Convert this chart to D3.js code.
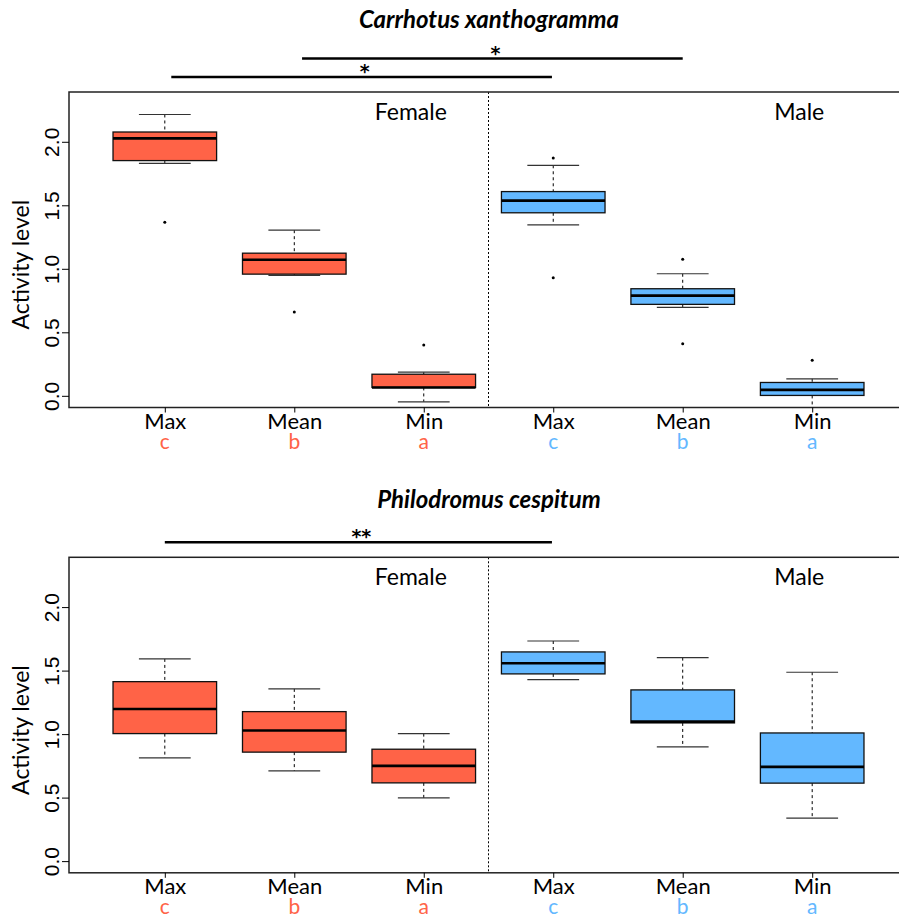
<!DOCTYPE html>
<html>
<head>
<meta charset="utf-8">
<script src="https://cdn.jsdelivr.net/npm/d3@7"></script>
<style>
body { margin: 0; background: #fff; }
svg text { font-family: Lato, "Open Sans", sans-serif; fill: #000; }
</style>
</head>
<body>
<svg id="chart" width="899" height="919"></svg>
<script>
// ---- data ----
var categories = ["Max", "Mean", "Min", "Max", "Mean", "Min"];
var groupLetters = ["c", "b", "a", "c", "b", "a"];
var sexOfBox = [0, 0, 0, 1, 1, 1];
var sexLabels = ["Female", "Male"];
var sexColors = ["#FF6347", "#63B8FF"];
var yTicks = [0, 0.5, 1.0, 1.5, 2.0];

// Carrhotus xanthogramma
var carrLow = [1.83, 0.948, -0.047, 1.346, 0.697, -0.12];
var carrQ1 = [1.852, 0.958, 0.066, 1.441, 0.720, 0.003];
var carrMed = [2.027, 1.071, 0.066, 1.537, 0.789, 0.047];
var carrQ3 = [2.077, 1.123, 0.170, 1.608, 0.843, 0.105];
var carrHigh = [2.215, 1.304, 0.186, 1.815, 0.961, 0.134];
var carrOutliers = [[1.367], [0.660], [0.40], [1.873, 0.930], [1.076, 0.41], [0.28]];
var carrBarFrom = [1.05, 2.06];
var carrBarTo = [3.99, 5.0];
var carrBarStars = ["*", "*"];

// Philodromus cespitum
var philLow = [0.813, 0.710, 0.498, 1.429, 0.899, 0.338];
var philQ1 = [1.004, 0.858, 0.616, 1.474, 1.088, 0.614];
var philMed = [1.198, 1.028, 0.750, 1.558, 1.098, 0.742];
var philQ3 = [1.413, 1.177, 0.881, 1.647, 1.348, 1.009];
var philHigh = [1.592, 1.356, 1.004, 1.733, 1.602, 1.487];
var philOutliers = [[], [], [], [], [], []];
var philBarFrom = [1.0];
var philBarTo = [3.99];
var philBarStars = ["**"];

var svg = d3.select("#chart");

var x = d3.scaleLinear().domain([0.26, 6.74]).range([69, 908]);

function drawPanel(cfg)
{
    var top = cfg.top, bottom = cfg.top + 315.5;
    var y = d3.scaleLinear().domain([-0.092, 2.392]).range([bottom, top]);
    var g = svg.append("g");
    var clipId = "clip" + cfg.id;

    g.append("clipPath").attr("id", clipId)
        .append("rect").attr("x", 69).attr("y", top).attr("width", 839).attr("height", bottom - top);

    // title
    g.append("text")
        .attr("x", 489).attr("y", cfg.titleY)
        .attr("text-anchor", "middle")
        .style("font-size", "24px").style("font-weight", "bold").style("font-style", "italic")
        .text(cfg.title);

    // significance bars
    cfg.barFrom.forEach(function (f, i) {
        var ly = top - 15 - i * 18.5;
        g.append("line")
            .attr("x1", x(f)).attr("x2", x(cfg.barTo[i]))
            .attr("y1", ly).attr("y2", ly)
            .attr("stroke", "#000").attr("stroke-width", 2.5);
        g.append("text")
            .attr("x", (x(f) + x(cfg.barTo[i])) / 2 + 3).attr("y", ly + 1)
            .attr("text-anchor", "middle")
            .style("font-family", "'DejaVu Sans', sans-serif")
            .style("font-size", "19px").style("font-weight", "bold")
            .text(cfg.stars[i]);
    });

    // divider between sexes
    g.append("line")
        .attr("x1", x(3.5)).attr("x2", x(3.5)).attr("y1", top).attr("y2", bottom)
        .attr("stroke", "#000").attr("stroke-width", 1).attr("stroke-dasharray", "2,2");

    // sex labels
    sexLabels.forEach(function (s, i) {
        g.append("text")
            .attr("x", x(i === 0 ? 2.9 : 5.9)).attr("y", top + 28)
            .attr("text-anchor", "middle")
            .style("font-size", "23px")
            .text(s);
    });

    // boxes
    var marks = g.append("g").attr("clip-path", "url(#" + clipId + ")");
    var boxes = marks.selectAll("g.box").data(categories.map(function (c, i) {
        return {pos: i + 1, low: cfg.low[i], q1: cfg.q1[i], med: cfg.med[i], q3: cfg.q3[i],
                high: cfg.high[i], out: cfg.outliers[i], color: sexColors[sexOfBox[i]]};
    })).enter().append("g").classed("box", true);

    boxes.append("line")
        .attr("x1", d => x(d.pos)).attr("x2", d => x(d.pos))
        .attr("y1", d => y(d.high)).attr("y2", d => y(d.q3))
        .attr("stroke", "#000").attr("stroke-dasharray", "3,3");
    boxes.append("line")
        .attr("x1", d => x(d.pos)).attr("x2", d => x(d.pos))
        .attr("y1", d => y(d.q1)).attr("y2", d => y(d.low))
        .attr("stroke", "#000").attr("stroke-dasharray", "3,3");
    ["high", "low"].forEach(function (k) {
        boxes.append("line")
            .attr("x1", d => x(d.pos - 0.2)).attr("x2", d => x(d.pos + 0.2))
            .attr("y1", d => y(d[k])).attr("y2", d => y(d[k]))
            .attr("stroke", "#333").attr("stroke-width", 1.2);
    });
    boxes.append("rect")
        .attr("x", d => x(d.pos - 0.4)).attr("width", d => x(d.pos + 0.4) - x(d.pos - 0.4))
        .attr("y", d => y(d.q3)).attr("height", d => y(d.q1) - y(d.q3))
        .attr("fill", d => d.color).attr("stroke", "#111").attr("stroke-width", 1.3);
    boxes.append("line")
        .attr("x1", d => x(d.pos - 0.4)).attr("x2", d => x(d.pos + 0.4))
        .attr("y1", d => y(d.med)).attr("y2", d => y(d.med))
        .attr("stroke", "#000").attr("stroke-width", 2.6);
    boxes.selectAll("circle").data(d => d.out.map(v => ({pos: d.pos, v: v})))
        .enter().append("circle")
        .attr("cx", d => x(d.pos)).attr("cy", d => y(d.v)).attr("r", 1.5).attr("fill", "#000");

    // frame
    g.append("rect")
        .attr("x", 69).attr("y", top).attr("width", 839).attr("height", bottom - top)
        .attr("fill", "none").attr("stroke", "#222").attr("stroke-width", 1.5);

    // y axis
    var yAxis = g.append("g").attr("transform", "translate(69,0)")
        .call(d3.axisLeft(y).tickValues(yTicks).tickSize(7).tickFormat(d3.format(".1f")));
    yAxis.select(".domain").remove();
    yAxis.selectAll(".tick line").attr("stroke", "#000");
    yAxis.selectAll(".tick text")
        .attr("x", null).attr("dy", null)
        .attr("transform", "translate(-10,0) rotate(-90)")
        .attr("text-anchor", "middle")
        .style("font-family", "'Liberation Sans', Arial, sans-serif")
        .style("font-size", "21px");

    g.append("text")
        .attr("transform", "translate(29," + ((top + bottom) / 2 + 15) + ") rotate(-90)")
        .attr("text-anchor", "middle")
        .style("font-size", "23px")
        .text("Activity level");

    // x axis
    var xAxis = g.append("g").attr("transform", "translate(0," + bottom + ")")
        .call(d3.axisBottom(x).tickValues(d3.range(1, 7)).tickSize(5).tickFormat((d) => categories[d - 1]));
    xAxis.select(".domain").remove();
    xAxis.selectAll(".tick line").attr("stroke", "#000");
    xAxis.selectAll(".tick text")
        .attr("y", 21).attr("dy", null)
        .style("font-size", "22px");

    g.selectAll("text.letter").data(groupLetters).enter().append("text")
        .classed("letter", true)
        .attr("x", (d, i) => x(i + 1)).attr("y", bottom + 41)
        .attr("text-anchor", "middle")
        .style("font-size", "21px")
        .style("fill", (d, i) => sexColors[sexOfBox[i]])
        .text(d => d);
}

drawPanel({id: 1, top: 92, titleY: 28, title: "Carrhotus xanthogramma",
    low: carrLow, q1: carrQ1, med: carrMed, q3: carrQ3, high: carrHigh, outliers: carrOutliers,
    barFrom: carrBarFrom, barTo: carrBarTo, stars: carrBarStars});

drawPanel({id: 2, top: 557.3, titleY: 508, title: "Philodromus cespitum",
    low: philLow, q1: philQ1, med: philMed, q3: philQ3, high: philHigh, outliers: philOutliers,
    barFrom: philBarFrom, barTo: philBarTo, stars: philBarStars});
</script>
</body>
</html>
